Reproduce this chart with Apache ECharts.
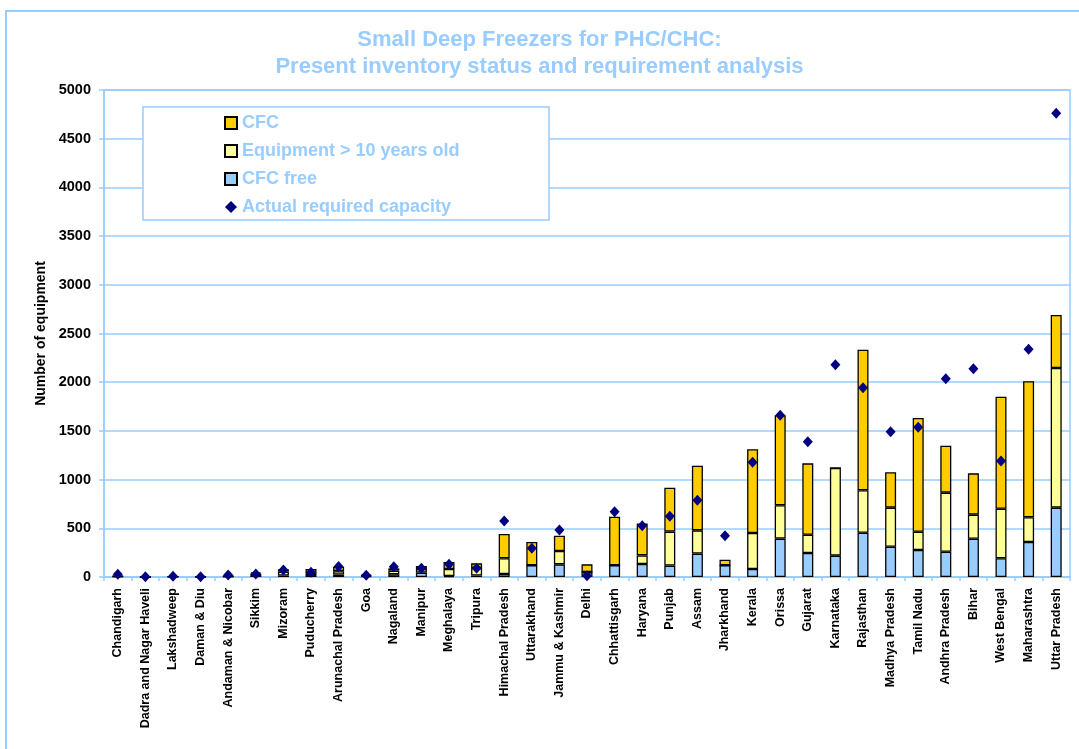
<!DOCTYPE html>
<html>
<head>
<meta charset="utf-8">
<title>Small Deep Freezers for PHC/CHC</title>
<script src="https://cdn.jsdelivr.net/npm/echarts@6/dist/echarts.min.js"></script>
<style>
  html, body { margin: 0; padding: 0; background: #fff; }
  #chart { width: 1079px; height: 749px; }
</style>
</head>
<body>
<div id="chart"></div>
<script>
// States / UTs, ordered by total inventory
const states = [
  'Chandigarh', 'Dadra and Nagar Haveli', 'Lakshadweep', 'Daman & Diu', 'Andaman & Nicobar',
  'Sikkim', 'Mizoram', 'Puducherry', 'Arunachal Pradesh', 'Goa', 'Nagaland', 'Manipur',
  'Meghalaya', 'Tripura', 'Himachal Pradesh', 'Uttarakhand', 'Jammu & Kashmir', 'Delhi',
  'Chhattisgarh', 'Haryana', 'Punjab', 'Assam', 'Jharkhand', 'Kerala', 'Orissa', 'Gujarat',
  'Karnataka', 'Rajasthan', 'Madhya Pradesh', 'Tamil Nadu', 'Andhra Pradesh', 'Bihar',
  'West Bengal', 'Maharashtra', 'Uttar Pradesh'
];

// Stacked inventory (bottom to top)
const cfcFree = [5, 0, 2, 1, 5, 20, 15, 20, 25, 10, 28, 45, 10, 15, 31, 120, 130, 50,
  120, 133, 117, 240, 120, 82, 394, 246, 219, 455, 311, 277, 260, 393, 192, 359, 712];
const olderThan10 = [3, 0, 2, 1, 3, 15, 40, 20, 35, 5, 37, 37, 72, 77, 161, 0, 137, 0,
  0, 89, 349, 239, 0, 370, 342, 188, 900, 435, 401, 188, 606, 247, 509, 254, 1434];
const cfc = [0, 0, 1, 1, 2, 13, 24, 42, 46, 10, 24, 31, 72, 48, 249, 239, 157, 80,
  499, 326, 451, 664, 58, 859, 924, 733, 0, 1444, 363, 1167, 482, 424, 1150, 1396, 544];

// Required capacity per state
const required = [28, 3, 7, 3, 20, 30, 72, 48, 108, 18, 106, 89, 130, 89, 575, 294, 482, 12,
  671, 527, 623, 787, 424, 1178, 1660, 1389, 2180, 1944, 1492, 1537, 2036, 2139, 1191, 2338, 4761];

const yTicks = { min: 0, max: 5000, step: 500 };

const LIGHT = '#99CCFF';
const FONT = '"Liberation Sans", Arial, sans-serif';

const chart = echarts.init(document.getElementById('chart'), null, { renderer: 'canvas' });

const barStyle = (color) => ({ color: color, borderColor: '#000', borderWidth: 1.3 });

chart.setOption({
  backgroundColor: '#fff',
  animation: false,
  title: {
    text: 'Small Deep Freezers for PHC/CHC:\nPresent inventory status and requirement analysis',
    left: 'center',
    top: 21,
    textStyle: {
      color: LIGHT, fontFamily: FONT, fontWeight: 'bold', fontSize: 22, lineHeight: 27
    }
  },
  graphic: [
    {
      type: 'rect', z: -10, silent: true,
      shape: { x: 6, y: 11, width: 1200, height: 1000 },
      style: { fill: 'none', stroke: LIGHT, lineWidth: 2 }
    },
    {
      type: 'rect', z: 3, silent: true,
      shape: { x: 143, y: 107, width: 406, height: 113 },
      style: { fill: '#fff', stroke: LIGHT, lineWidth: 1.5 }
    }
  ],
  legend: {
    orient: 'vertical',
    left: 224,
    top: 114,
    padding: 0,
    itemGap: 10,
    itemWidth: 12,
    itemHeight: 12,
    z: 5,
    textStyle: { color: LIGHT, fontFamily: FONT, fontWeight: 'bold', fontSize: 18, lineHeight: 18 },
    data: [
      { name: 'CFC', icon: 'rect' },
      { name: 'Equipment > 10 years old', icon: 'rect' },
      { name: 'CFC free', icon: 'rect' },
      { name: 'Actual required capacity', icon: 'diamond' }
    ]
  },
  grid: {
    left: 104, right: 9, top: 90, bottom: 172,
    show: true, borderColor: LIGHT, borderWidth: 1.5, backgroundColor: 'transparent'
  },
  xAxis: {
    type: 'category',
    data: states,
    axisLine: { lineStyle: { color: LIGHT, width: 2 } },
    axisTick: { show: true, length: 4, lineStyle: { color: LIGHT, width: 1.5 } },
    axisLabel: {
      interval: 0, rotate: 90, margin: 11,
      color: '#000', fontFamily: FONT, fontWeight: 'bold', fontSize: 12.5
    },
    splitLine: { show: false }
  },
  yAxis: {
    type: 'value',
    min: yTicks.min, max: yTicks.max, interval: yTicks.step,
    name: 'Number of equipment',
    nameLocation: 'middle',
    nameGap: 56,
    nameTextStyle: { color: '#000', fontFamily: FONT, fontWeight: 'bold', fontSize: 14 },
    axisLine: { show: true, lineStyle: { color: LIGHT, width: 1.5 } },
    axisTick: { show: true, length: 5, lineStyle: { color: LIGHT, width: 1.5 } },
    axisLabel: {
      margin: 13, color: '#000', fontFamily: FONT, fontWeight: 'bold', fontSize: 14.5,
      formatter: (v) => String(v)
    },
    splitLine: { show: true, lineStyle: { color: LIGHT, width: 1.5 } }
  },
  series: [
    {
      name: 'CFC free', type: 'bar', stack: 'inv', barWidth: 11,
      itemStyle: barStyle('#99CCFF'), data: cfcFree
    },
    {
      name: 'Equipment > 10 years old', type: 'bar', stack: 'inv', barWidth: 11,
      itemStyle: barStyle('#FFFF99'), data: olderThan10
    },
    {
      name: 'CFC', type: 'bar', stack: 'inv', barWidth: 11,
      itemStyle: barStyle('#FFCC00'), data: cfc
    },
    {
      name: 'Actual required capacity', type: 'scatter', symbol: 'diamond', symbolSize: [10, 11],
      z: 4, itemStyle: { color: '#000080', opacity: 1 }, data: required
    }
  ]
});
</script>
</body>
</html>
